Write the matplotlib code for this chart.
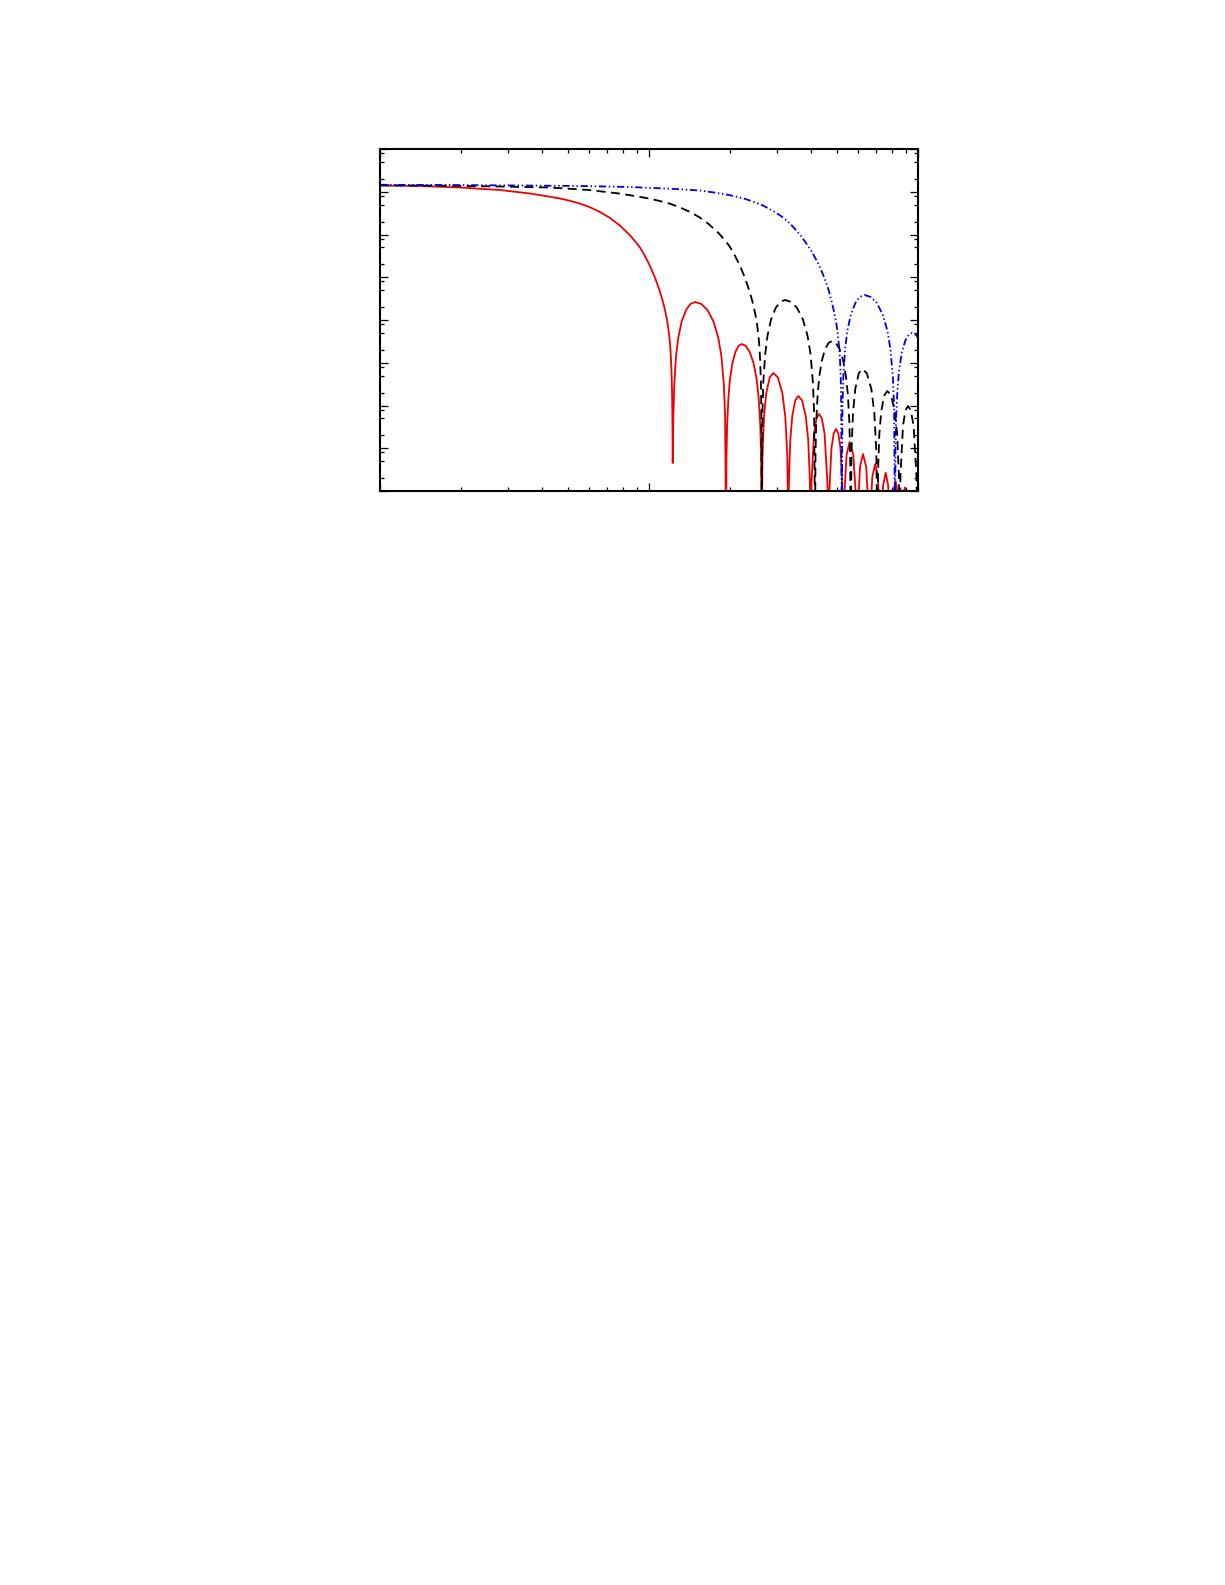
import numpy as np
import matplotlib
matplotlib.use("Agg")
import matplotlib.pyplot as plt
from matplotlib.ticker import LogLocator, NullFormatter

# Values, stored as log10 of the plotted quantities
# (both axes are logarithmic: x spans 1..100, y spans 1e-8..1).
# Points at log = -9 mark the zeros that run off the bottom of the axes.

red_log_q = [0.0, 0.1487, 0.2974, 0.4461, 0.5576, 0.6134, 0.6691, 0.7063, 0.7435, 0.7807,
             0.8178, 0.8550, 0.8922, 0.9294, 0.9517, 0.9665, 0.9777, 0.9888, 1.0000, 1.0112,
             1.0223, 1.0335, 1.0409, 1.0483, 1.0558, 1.0613, 1.0669, 1.0714, 1.0751, 1.0781,
             1.0807, 1.0825, 1.0844, 1.0859, 1.0870, 1.0881,
             # lobe 1
             1.0907, 1.0941, 1.1004, 1.1089, 1.1212, 1.1379, 1.1543, 1.1710,
             1.1941, 1.2171, 1.2401, 1.2576, 1.2691, 1.2781, 1.2829, 1.2862,
             # lobe 2
             1.2881, 1.2903, 1.2952, 1.3007, 1.3097, 1.3212, 1.3331, 1.3446,
             1.3595, 1.3743, 1.3892, 1.4004, 1.4078, 1.4138, 1.4167, 1.4190,
             # lobe 3
             1.4219, 1.4275, 1.4361, 1.4491, 1.4621, 1.4788, 1.4955, 1.5067, 1.5141, 1.5178,
             # lobe 4
             1.5204, 1.5253, 1.5327, 1.5439, 1.5550, 1.5688, 1.5825, 1.5918, 1.5978, 1.6011,
             # lobe 5
             1.6041, 1.6134, 1.6227, 1.6320, 1.6424, 1.6528, 1.6632, 1.6665,
             # lobe 6
             1.6695, 1.6781, 1.6866, 1.6952, 1.7037, 1.7119, 1.7204, 1.7230,
             # lobe 7
             1.7260, 1.7346, 1.7457, 1.7595, 1.7691, 1.7732,
             # lobe 8
             1.7766, 1.7844, 1.7955, 1.8074, 1.8156, 1.8190,
             # lobe 9
             1.8219, 1.8301, 1.8409, 1.8509, 1.8576, 1.8606,
             # lobe 10
             1.8636, 1.8703, 1.8799, 1.8892, 1.8959, 1.8989,
             # lobe 11
             1.9078, 1.9164, 1.9253, 1.9342,
             # lobe 12
             1.9424, 1.9506, 1.9587, 1.9669,
             # lobe 13
             1.9822, 1.9974]
red_log_I = [-0.8538, -0.8655, -0.9006, -0.9591, -1.0409, -1.0971, -1.1579, -1.2117, -1.2772, -1.3637,
             -1.4737, -1.6140, -1.7918, -2.0187, -2.1848, -2.3041, -2.4211, -2.5497, -2.6901, -2.8421,
             -3.0129, -3.2047, -3.3450, -3.4971, -3.6725, -3.8246, -4.0000, -4.1754, -4.3626, -4.5497,
             -4.7953, -5.0292, -5.3567, -5.7778, -6.2924, -7.3450,
             -6.229, -5.499, -4.844, -4.413, -4.040, -3.763, -3.623, -3.579,
             -3.623, -3.763, -4.040, -4.413, -4.844, -5.499, -6.229, -9.0,
             -7.211, -6.481, -5.826, -5.395, -5.022, -4.745, -4.605, -4.561,
             -4.605, -4.745, -5.022, -5.395, -5.826, -6.481, -7.211, -9.0,
             -7.160, -6.260, -5.701, -5.340, -5.240, -5.340, -5.701, -6.260, -7.160, -9.0,
             -7.698, -6.798, -6.239, -5.878, -5.778, -5.878, -6.239, -6.798, -7.698, -9.0,
             -7.809, -6.660, -6.299, -6.199, -6.299, -6.660, -7.809, -9.0,
             -8.160, -7.011, -6.650, -6.550, -6.650, -7.011, -8.160, -9.0,
             -8.119, -7.155, -6.854, -7.155, -8.119, -9.0,
             -8.400, -7.436, -7.135, -7.436, -8.400, -9.0,
             -8.633, -7.669, -7.368, -7.669, -8.633, -9.0,
             -8.837, -7.873, -7.572, -7.873, -8.837, -9.0,
             -8.067, -7.766, -8.067, -9.0,
             -8.219, -7.918, -8.219, -9.0,
             -8.012, -9.0]

black_log_q = [0.0, 0.2602, 0.4461, 0.6283, 0.7770, 0.8885, 0.9442, 1.0000, 1.0372, 1.0743,
               1.1115, 1.1487, 1.1859, 1.2230, 1.2602, 1.2825, 1.2974, 1.3086, 1.3197, 1.3309,
               1.3420, 1.3532, 1.3643, 1.3717, 1.3792, 1.3866, 1.3922, 1.3978, 1.4022, 1.4059,
               1.4089, 1.4115, 1.4134, 1.4152, 1.4167, 1.4178, 1.4190,
               # lobe 1
               1.4216, 1.4249, 1.4320, 1.4405, 1.4535, 1.4710, 1.4881, 1.5056,
               1.5279, 1.5502, 1.5725, 1.5892, 1.6004, 1.6093, 1.6138, 1.6171,
               # lobe 2
               1.6190, 1.6216, 1.6268, 1.6331, 1.6424, 1.6550, 1.6677, 1.6803,
               1.6941, 1.7082, 1.7219, 1.7323, 1.7394, 1.7450, 1.7476, 1.7498,
               # lobe 3
               1.7528, 1.7584, 1.7669, 1.7799, 1.7929, 1.8097, 1.8264, 1.8375, 1.8450, 1.8487,
               # lobe 4
               1.8513, 1.8561, 1.8636, 1.8747, 1.8859, 1.8996, 1.9134, 1.9227, 1.9286, 1.9320,
               # lobe 5
               1.9349, 1.9442, 1.9535, 1.9628, 1.9732, 1.9836, 1.9941, 1.9974, 2.0022]
black_log_I = [-0.8491, -0.8608, -0.8772, -0.9006, -0.9591, -1.0409, -1.0971, -1.1579, -1.2117, -1.2725,
               -1.3567, -1.4620, -1.5906, -1.7614, -1.9766, -2.1404, -2.2573, -2.3696, -2.4982, -2.6386,
               -2.7906, -2.9614, -3.1532, -3.2936, -3.4456, -3.6211, -3.7731, -3.9485, -4.1240, -4.3111,
               -4.4982, -4.7439, -4.9778, -5.3053, -5.7263, -6.2409, -9.0,
               -6.182, -5.452, -4.797, -4.366, -3.993, -3.716, -3.576, -3.532,
               -3.576, -3.716, -3.993, -4.366, -4.797, -5.452, -6.182, -9.0,
               -7.141, -6.411, -5.756, -5.325, -4.952, -4.675, -4.535, -4.491,
               -4.535, -4.675, -4.952, -5.325, -5.756, -6.411, -7.141, -9.0,
               -7.066, -6.166, -5.607, -5.246, -5.146, -5.246, -5.607, -6.166, -7.066, -9.0,
               -7.581, -6.681, -6.122, -5.761, -5.661, -5.761, -6.122, -6.681, -7.581, -9.0,
               -7.622, -6.473, -6.112, -6.012, -6.112, -6.473, -7.622, -9.0, -7.9]

blue_log_q = [0.0, 0.2602, 0.5204, 0.7435, 0.9294, 1.0781, 1.1896, 1.2416, 1.2974, 1.3532,
              1.3903, 1.4275, 1.4647, 1.4907, 1.5204, 1.5428, 1.5651, 1.5836, 1.6022, 1.6171,
              1.6320, 1.6431, 1.6543, 1.6654, 1.6729, 1.6803, 1.6877, 1.6952, 1.6989, 1.7026,
              1.7063, 1.7100, 1.7126, 1.7145, 1.7164,
              # lobe 1
              1.7190, 1.7223, 1.7290, 1.7375, 1.7502, 1.7673, 1.7840, 1.8011,
              1.8238, 1.8465, 1.8691, 1.8862, 1.8974, 1.9067, 1.9112, 1.9145,
              # lobe 2
              1.9164, 1.9190, 1.9242, 1.9305, 1.9398, 1.9524, 1.9651, 1.9777, 1.9926, 2.0074]
blue_log_I = [-0.8374, -0.8421, -0.8538, -0.8655, -0.8889, -0.9287, -0.9708, -1.0175, -1.0760, -1.1579,
              -1.2398, -1.3333, -1.4620, -1.5673, -1.7193, -1.8713, -2.0351, -2.1988, -2.3743, -2.5380,
              -2.7135, -2.8772, -3.0526, -3.2515, -3.4152, -3.6023, -3.8012, -4.0351, -4.1871, -4.3743,
              -4.6082, -4.9123, -5.3099, -5.9181, -9.0,
              -6.065, -5.335, -4.680, -4.249, -3.876, -3.599, -3.459, -3.415,
              -3.459, -3.599, -3.876, -4.249, -4.680, -5.335, -6.065, -9.0,
              -6.954, -6.224, -5.569, -5.138, -4.765, -4.488, -4.348, -4.304, -4.348, -4.488]

x_limits = (1.0, 100.0)
y_limits = (1e-8, 1.0)

W, H = 1225, 1585
fig = plt.figure(figsize=(W / 100, H / 100), dpi=100)
fig.patch.set_facecolor("white")
ax = fig.add_axes([380 / W, (H - 491) / H, 538 / W, 342 / H])

lw = 1.3
ax.plot(10.0 ** np.array(red_log_q), 10.0 ** np.array(red_log_I),
        color="#f00000", lw=lw, solid_joinstyle="round")
ax.plot(10.0 ** np.array(black_log_q), 10.0 ** np.array(black_log_I),
        color="black", lw=lw, linestyle=(0, (5.0, 3.0)))
ax.plot(10.0 ** np.array(blue_log_q), 10.0 ** np.array(blue_log_I),
        color="#0000e6", lw=lw, linestyle=(0, (4.0, 1.5, 0.8, 1.5, 0.8, 1.5)))

ax.set_xscale("log")
ax.set_yscale("log")
ax.set_xlim(*x_limits)
ax.set_ylim(*y_limits)

ax.xaxis.set_major_locator(LogLocator(base=10))
ax.xaxis.set_minor_locator(LogLocator(base=10, subs=(2, 3, 4, 5, 6, 7, 8, 9)))
ax.yaxis.set_major_locator(LogLocator(base=10, numticks=20))
ax.yaxis.set_minor_locator(LogLocator(base=10, subs=(2, 5, 8), numticks=20))
for axis in (ax.xaxis, ax.yaxis):
    axis.set_major_formatter(NullFormatter())
    axis.set_minor_formatter(NullFormatter())

ax.tick_params(which="both", direction="in", top=True, right=True,
               labelbottom=False, labelleft=False, width=0.9, color="black")
ax.tick_params(which="major", length=5.5)
ax.tick_params(which="minor", length=2.8)
for sp in ax.spines.values():
    sp.set_linewidth(1.5)

fig.savefig("out.png", dpi=100, facecolor="white")
